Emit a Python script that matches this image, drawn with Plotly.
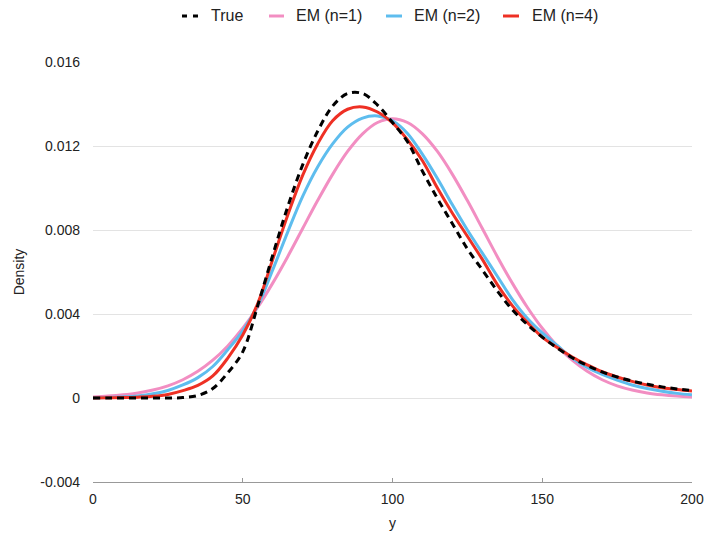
import plotly.graph_objects as go

x_vals = [0, 5, 10, 15, 20, 25, 30, 35, 40, 45, 50, 55, 60, 65, 70, 75, 80, 85, 90, 95, 100,
          105, 110, 115, 120, 125, 130, 135, 140, 145, 150, 155, 160, 165, 170, 175, 180,
          185, 190, 195, 200]

true_density = [0.0, 0.0, 0.0, 0.0, 0.0, 0.0, 0.00002, 0.00012, 0.00045, 0.0012, 0.0022,
                0.0044, 0.0068, 0.0091, 0.0111, 0.0127, 0.0139, 0.01450, 0.01450, 0.01395, 0.01312,
                0.0122, 0.0108, 0.0095, 0.0083, 0.0071, 0.0061, 0.0051, 0.0042, 0.0035, 0.0029,
                0.00238, 0.00192, 0.00155, 0.00124, 0.00100, 0.00081, 0.00066, 0.00053, 0.00043,
                0.00035]

em_n1 = [0.00005, 0.00009, 0.00015, 0.00024, 0.00038, 0.00058, 0.00087, 0.00127, 0.00180,
         0.00248, 0.00332, 0.00432, 0.00547, 0.00673, 0.00807, 0.00940, 0.01065, 0.01174,
         0.01258, 0.01312, 0.01330, 0.01312, 0.01258, 0.01174, 0.01065, 0.00940, 0.00807,
         0.00673, 0.00547, 0.00432, 0.00332, 0.00248, 0.00180, 0.00127, 0.00087, 0.00058,
         0.00038, 0.00024, 0.00015, 0.00009, 0.00005]

em_n2 = [0.00001, 0.00002, 0.00005, 0.0001, 0.0002, 0.00036, 0.00062, 0.00097, 0.0015, 0.0023,
         0.0032, 0.0044, 0.0061, 0.0079, 0.0096, 0.0110, 0.0121, 0.0129, 0.01333, 0.01343,
         0.0132, 0.0126, 0.0116, 0.01045, 0.0092, 0.0080, 0.0069, 0.0058, 0.0047, 0.0038,
         0.0031, 0.0025, 0.0019, 0.00145, 0.00112, 0.00085, 0.00062, 0.00045, 0.00032,
         0.00022, 0.00015]

em_n4 = [0.0, 0.00001, 0.00002, 0.00004, 0.00008, 0.00017, 0.00035, 0.0006, 0.00105, 0.0019,
         0.0030, 0.0045, 0.0066, 0.0087, 0.0106, 0.0121, 0.0132, 0.01375, 0.01386, 0.01362,
         0.0131, 0.0123, 0.0113, 0.0100, 0.0088, 0.0077, 0.0066, 0.0054, 0.0044, 0.0036,
         0.0029, 0.0024, 0.00195, 0.00158, 0.00125, 0.00100, 0.00079, 0.00062, 0.00049,
         0.00040, 0.00033]

x_ticks = [0, 50, 100, 150, 200]
y_ticks = [-0.004, 0, 0.004, 0.008, 0.012, 0.016]
y_tick_text = ["-0.004", "0", "0.004", "0.008", "0.012", "0.016"]

series_names = ["True", "EM (n=1)", "EM (n=2)", "EM (n=4)"]
series_values = [true_density, em_n1, em_n2, em_n4]
series_colors = ["#000000", "#F28EC2", "#5EBDEE", "#EE3024"]
series_dash = ["7px,5px", "solid", "solid", "solid"]
draw_order = [1, 2, 3, 0]

# figure geometry (pixels)
W, H = 705, 535
L, R, T, B = 93, 13, 62, 53
plot_w = W - L - R
plot_h = H - T - B

# legend layout (pixel positions of symbol start/end and text start)
legend_sym_x0 = [182, 269, 386, 503]
legend_sym_x1 = [198, 284, 402, 519]
legend_text_x = [210, 295, 413, 531]
legend_y_px = 16


def px_to_paper_x(px):
    return (px - L) / plot_w


def px_to_paper_y(py):
    return (H - B - py) / plot_h


fig = go.Figure()
for idx in draw_order:
    fig.add_trace(go.Scatter(
        x=x_vals, y=series_values[idx], mode="lines", name=series_names[idx],
        showlegend=False,
        line=dict(color=series_colors[idx], width=3, dash=series_dash[idx],
                  shape="spline", smoothing=1.0),
    ))

font_family = "Liberation Sans, Arial, Helvetica, sans-serif"

shapes = []
annotations = []
ly = px_to_paper_y(legend_y_px)
for i, name in enumerate(series_names):
    shapes.append(dict(
        type="line", xref="paper", yref="paper",
        x0=px_to_paper_x(legend_sym_x0[i]), x1=px_to_paper_x(legend_sym_x1[i]),
        y0=ly, y1=ly,
        line=dict(color=series_colors[i], width=3,
                  dash="5px,6px" if series_dash[i] != "solid" else "solid"),
    ))
    annotations.append(dict(
        text=name, xref="paper", yref="paper", x=px_to_paper_x(legend_text_x[i]), y=ly,
        xanchor="left", yanchor="middle", showarrow=False, borderpad=0,
        font=dict(size=16, color="#222222", family=font_family),
    ))

fig.update_layout(
    width=W, height=H,
    margin=dict(l=L, r=R, t=T, b=B, autoexpand=False),
    paper_bgcolor="white", plot_bgcolor="white",
    font=dict(family=font_family, size=14, color="#222222"),
    showlegend=False,
    shapes=shapes,
    annotations=annotations,
    xaxis=dict(
        range=[0, 200], tickvals=x_ticks, ticks="inside", ticklen=4, tickcolor="#999999",
        showline=True, linecolor="#999999", linewidth=1, showgrid=False, zeroline=False,
        title=dict(text="y", font=dict(size=14), standoff=12),
        tickfont=dict(size=14), automargin=False, ticklabelstandoff=4,
    ),
    yaxis=dict(
        range=[-0.004, 0.016], tickvals=y_ticks, ticktext=y_tick_text,
        showgrid=True, gridcolor="#E3E3E3", gridwidth=1, zeroline=False, showline=False,
        ticks="", ticklabelstandoff=12,
        title=dict(text="Density", font=dict(size=14), standoff=12),
        tickfont=dict(size=14), automargin=False,
    ),
)

fig.write_html("out.html")
